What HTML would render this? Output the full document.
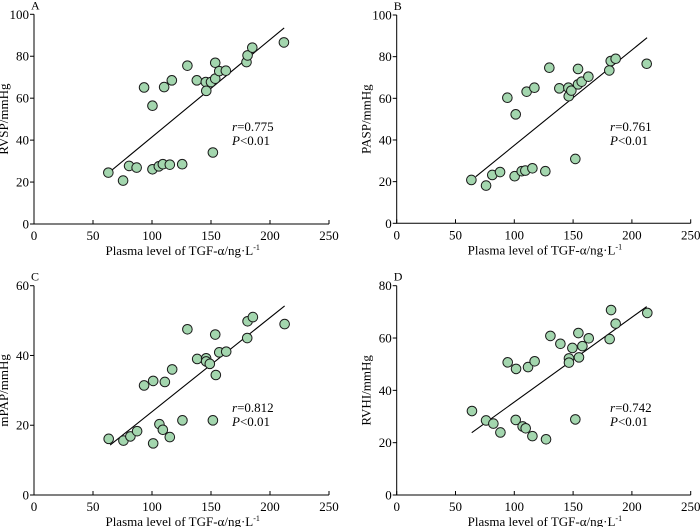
<!DOCTYPE html>
<html><head><meta charset="utf-8"><style>
body{margin:0;background:#fff}
svg{display:block;font-family:"Liberation Serif",serif}
</style></head><body>
<svg id="fig" width="700" height="527" viewBox="0 0 700 527" xmlns="http://www.w3.org/2000/svg"></svg>
<script>
const xTicks=[0,50,100,150,200,250];
const aX=[63,75.5,80.6,87,93.3,100.4,100.4,105.8,109.2,110.3,115.1,116.8,125.6,130,138,145.6,146,150,151.6,153.6,153.6,157,162.6,180.1,181,185,211.8];
const aY=[24.5,20.7,27.7,26.9,65.1,56.4,26.1,27.5,28.5,65.3,28.3,68.5,28.5,75.5,68.5,67.7,63.5,67.7,34.1,76.9,69.3,72.9,73.1,77.2,80.4,84.1,86.6];
const aLine=[64.5,25,212,93.5];
const aTicks=[0,20,40,60,80,100];
const bX=[63.5,76,81.3,87.9,94.1,101.2,100.3,106.3,109.4,110.5,115.4,117.1,126.4,129.8,138.3,146,146.3,148.5,151.9,154.2,154.2,157.3,163,180.8,182,186.2,212.6];
const bY=[20.8,18.1,23.2,24.6,60.3,52.3,22.6,25,25.3,63.2,26.4,65.1,25,74.7,64.8,65.1,61,63.7,30.9,74.1,66.7,68,70.4,73.4,77.9,79,76.6];
const bLine=[67.2,22.4,212.9,89.1];
const bTicks=[0,20,40,60,80,100];
const cX=[63.3,75.8,81.7,87.4,93.3,101,101,106.3,109.2,110.9,115.1,117.1,125.8,130,138.3,145.9,145.9,149,151.6,153.6,154.1,157,162.9,180.7,181,185.5,212.4];
const cY=[16.1,15.6,16.8,18.3,31.4,32.7,14.8,20.3,18.7,32.4,16.6,36,21.4,47.5,39,39.2,38.3,37.6,21.4,46,34.4,40.9,41.1,45,49.8,51,49];
const cLine=[64.5,14.3,212.4,54.2];
const cTicks=[0,20,40,60];
const dX=[64,76,82.2,88.2,94.4,101.5,101.2,107.1,109.7,111.7,115.4,117.3,127,130.7,139.2,146.5,146.5,149.4,151.9,154.5,155,157.9,163.3,181.1,182.3,186.2,213.1];
const dY=[32.1,28.5,27.3,23.9,50.7,48.2,28.7,26.2,25.5,48.9,22.5,51.1,21.3,60.8,57.8,52.2,50.6,56.2,28.9,61.9,52.6,56.9,59.9,59.6,70.7,65.5,69.6];
const dLine=[63.8,23.8,212.6,72];
const dTicks=[0,20,40,60,80];

const NS="http://www.w3.org/2000/svg";
const svg=document.getElementById('fig');
function mk(tag,attrs,parent,text){const e=document.createElementNS(NS,tag);for(const k in attrs)e.setAttribute(k,attrs[k]);if(text!==undefined)e.textContent=text;parent.appendChild(e);return e;}

const panels=[
 {id:'a',letter:'A',ylab:'RVSP/mmHg',r:'0.775',X:aX,Y:aY,L:aLine,T:aTicks,x0:34,x1:329,y0:224,y1:14.3,ax:232,ay:131},
 {id:'b',letter:'B',ylab:'PASP/mmHg',r:'0.761',X:bX,Y:bY,L:bLine,T:bTicks,x0:396.7,x1:690.7,y0:223.3,y1:15,ax:610,ay:131},
 {id:'c',letter:'C',ylab:'mPAP/mmHg',r:'0.812',X:cX,Y:cY,L:cLine,T:cTicks,x0:34,x1:329,y0:495,y1:285.7,ax:232,ay:412},
 {id:'d',letter:'D',ylab:'RVHI/mmHg',r:'0.742',X:dX,Y:dY,L:dLine,T:dTicks,x0:396.7,x1:690.7,y0:495,y1:285.7,ax:610,ay:412}
];
panels.forEach(p=>{
 const g=mk('g',{},svg);
 
 
 const ymax=p.T[p.T.length-1];
 const sx=v=>p.x0+(v-0)/250*(p.x1-p.x0);
 const sy=v=>p.y0-(v/ymax)*(p.y0-p.y1);
 const ax=mk('path',{d:`M${p.x0},${p.y1} V${p.y0} H${p.x1}`,stroke:'#000','stroke-width':1,fill:'none'},g);
 
 
 xTicks.forEach(t=>{
  const x=sx(t);
  mk('line',{x1:x,x2:x,y1:p.y0,y2:p.y0-4,stroke:'#000'},g);
  const tl=mk('text',{x:x,y:p.y0+16,'font-size':13,'text-anchor':'middle'},g,String(t));
  
  
 });
 p.T.forEach(t=>{
  const y=sy(t);
  mk('line',{x1:p.x0-4,x2:p.x0,y1:y,y2:y,stroke:'#000'},g);
  const tl=mk('text',{x:p.x0-5,y:y+4.5,'font-size':13,'text-anchor':'end'},g,String(t));
  
  
 });
 const lt=mk('text',{x:p.x0-3,y:p.y1-5,'font-size':12},g,p.letter);
 
 
 const xt=mk('text',{x:sx(126),y:p.y0+31,'font-size':13,'text-anchor':'middle'},g);
 
 
 xt.innerHTML='Plasma level of TGF-α/ng·L<tspan dy="-5" font-size="8">-1</tspan>';
 const yt=mk('text',{x:0,y:0,'font-size':13,'text-anchor':'middle',transform:`translate(${p.x0-26},${(p.y0+p.y1)/2}) rotate(-90)`},g,p.ylab);
 
 
 const fl=mk('line',{x1:sx(p.L[0]),y1:sy(p.L[1]),x2:sx(p.L[2]),y2:sy(p.L[3]),stroke:'#000','stroke-width':1.1},g);
 
 
 p.X.forEach((v,i)=>{
  const c=mk('circle',{cx:sx(v),cy:sy(p.Y[i]),r:4.8,fill:'#a3d6ae',stroke:'#1a1a1a','stroke-width':1},g);
  
  
 });
 const a1=mk('text',{x:p.ax,y:p.ay,'font-size':13},g);
 
 
 a1.innerHTML='<tspan font-style="italic">r</tspan>=' + p.r;
 const a2=mk('text',{x:p.ax,y:p.ay+14,'font-size':13},g);
 
 
 a2.innerHTML='<tspan font-style="italic">P</tspan>&lt;0.01';
});
</script>
</body></html>
